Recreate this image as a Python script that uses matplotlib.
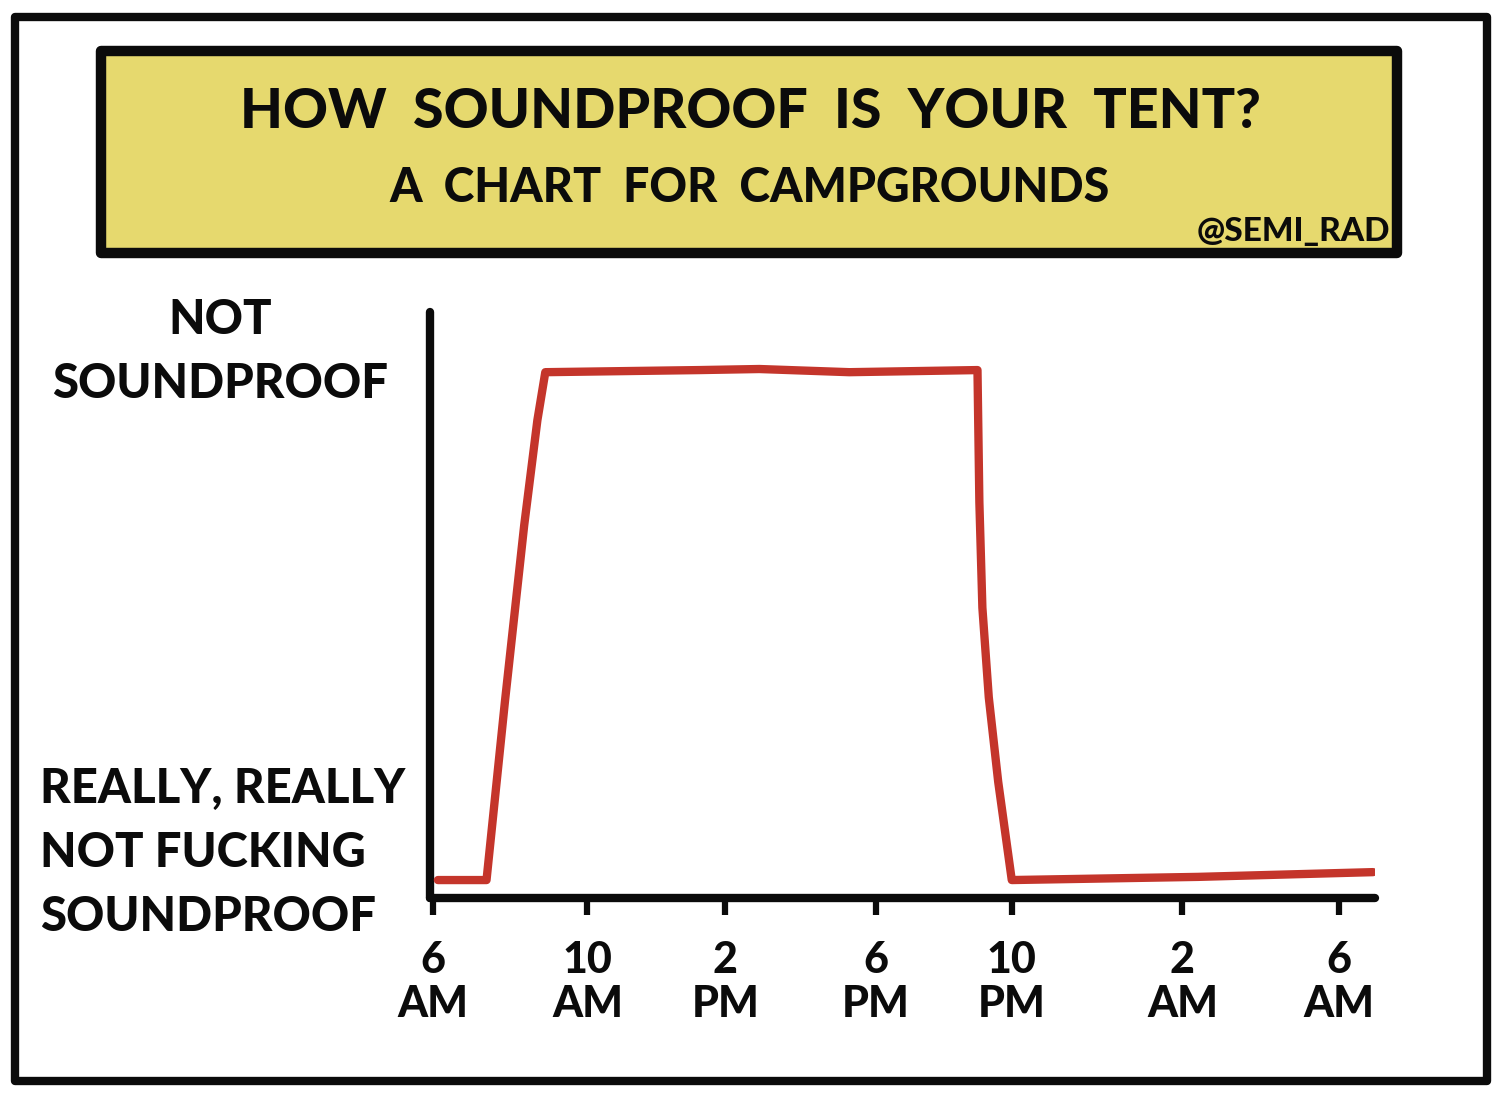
import matplotlib
matplotlib.use("Agg")
import matplotlib.pyplot as plt
from matplotlib.patches import Rectangle

# ---- data (hours since 6 AM) ----
hours = [0.13, 1.42, 1.91, 2.42, 2.77, 2.98, 7.07, 8.66, 11.05, 14.45, 14.50, 14.58,
         14.75, 15.00, 15.36, 20.30, 24.95]
noise = [0.034, 0.034, 0.373, 0.706, 0.905, 0.996, 1.000, 1.002, 0.996, 1.000, 0.75,
         0.55, 0.38, 0.22, 0.034, 0.040, 0.049]

tick_hours = [0.0, 4.1, 7.76, 11.76, 15.36, 19.89, 24.05]
tick_labels = ["6\nAM", "10\nAM", "2\nPM", "6\nPM", "10\nPM", "2\nAM", "6\nAM"]

title = "HOW  SOUNDPROOF  IS  YOUR  TENT?"
subtitle = "A  CHART  FOR  CAMPGROUNDS"
credit = "@SEMI_RAD"
top_label = "NOT\nSOUNDPROOF"
bottom_label = "REALLY, REALLY\nNOT FUCKING\nSOUNDPROOF"

FONT = ["Lato", "DejaVu Sans"]
INK = "#0b0b0b"
RED = "#c4352b"
YELLOW = "#e6d96e"

W, H = 1500, 1106
fig = plt.figure(figsize=(W / 100, H / 100), dpi=100)
fig.patch.set_facecolor("white")

def fx(px):
    return px / W

def fy(py):
    return 1 - py / H

# outer frame
fig.add_artist(Rectangle((fx(15), fy(1081)), fx(1487) - fx(15), fy(17) - fy(1081),
                         transform=fig.transFigure, fill=False, lw=6, ec=INK,
                         joinstyle="round"))
# title banner
fig.add_artist(Rectangle((fx(101), fy(253)), fx(1397) - fx(101), fy(51) - fy(253),
                         transform=fig.transFigure, fc=YELLOW, lw=7.5, ec=INK,
                         joinstyle="round"))

fig.text(fx(750), fy(112), title, ha="center", va="center", fontsize=40,
         fontweight="black", family=FONT, color=INK)
fig.text(fx(750), fy(188), subtitle, ha="center", va="center", fontsize=33.5,
         fontweight="black", family=FONT, color=INK)
fig.text(fx(1390), fy(232), credit, ha="right", va="center", fontsize=24,
         fontweight="black", family=FONT, color=INK)

# axes
ax = fig.add_axes([fx(430), fy(898), fx(1375) - fx(430), fy(312) - fy(898)])
ax.set_facecolor("none")
ax.plot(hours, noise, color=RED, lw=6, solid_capstyle="round", solid_joinstyle="round",
        zorder=3)
ax.set_xlim(-0.08, 25.0)
ax.set_ylim(0, 1.11)
for s in ["top", "right"]:
    ax.spines[s].set_visible(False)
for s in ["left", "bottom"]:
    ax.spines[s].set_linewidth(6)
    ax.spines[s].set_color(INK)
    ax.spines[s].set_capstyle("round")
ax.set_yticks([])
ax.set_xticks(tick_hours)
ax.set_xticklabels(tick_labels, family=FONT, fontweight="black", fontsize=31,
                   color=INK, linespacing=1.12)
ax.tick_params(axis="x", length=12, width=4.5, color=INK, pad=18)

fig.text(fx(220), fy(352), top_label, ha="center", va="center", fontsize=34,
         fontweight="black", family=FONT, color=INK, linespacing=1.55)
fig.text(fx(40), fy(853), bottom_label, ha="left", va="center", fontsize=34,
         fontweight="black", family=FONT, color=INK, linespacing=1.55)

fig.savefig("out.png", dpi=100, facecolor="white")
